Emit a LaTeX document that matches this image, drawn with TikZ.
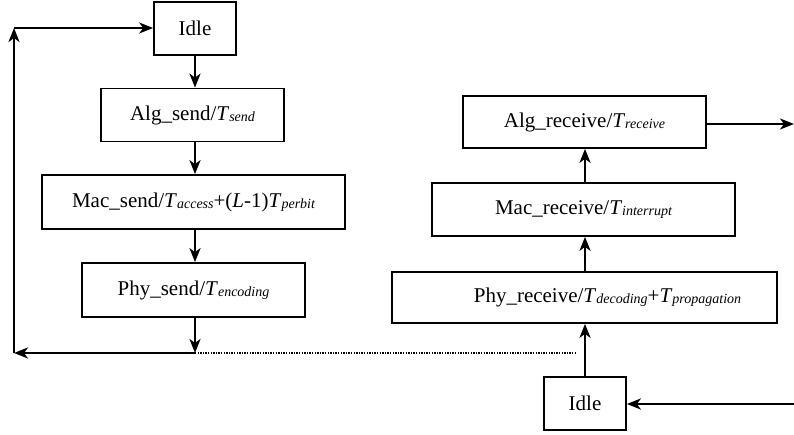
\documentclass[tikz,border=0pt]{standalone}
\usepackage{fontspec}
\setmainfont{Liberation Serif}
\usetikzlibrary{arrows.meta}
\newcommand{\sbx}[1]{\raisebox{-1.2pt}{\fontsize{14}{14}\selectfont\itshape #1}}
\newcommand{\Tit}{\textit{T}}
\begin{document}
\begin{tikzpicture}[x=1pt,y=-1pt,
  box/.style={draw,line width=1.7pt,inner sep=0pt,font=\fontsize{21}{24}\selectfont},
  arr/.style={line width=2.6pt,-{Stealth[length=14pt,width=11pt,inset=4pt]}},
  ln/.style={line width=2.6pt}]
\useasboundingbox (0,0) rectangle (794,435);
% left column
\node[box,minimum width=82pt,minimum height=53pt] (idleA) at (195,28.5) {Idle};
\node[box,minimum width=183pt,minimum height=53pt] (algS) at (192.5,115) {Alg\_send/\Tit\sbx{send}};
\node[box,minimum width=303pt,minimum height=54pt] (macS) at (193.5,202) {Mac\_send/\Tit\sbx{access}+(\textit{L}-1)\Tit\sbx{perbit}};
\node[box,minimum width=223pt,minimum height=54pt] (phyS) at (193.5,290) {Phy\_send/\Tit\sbx{encoding}};
% right column
\node[box,minimum width=243pt,minimum height=52pt] (algR) at (584.5,122) {Alg\_receive/\Tit\sbx{receive}};
\node[box,minimum width=303pt,minimum height=53pt] (macR) at (583.5,209.5) {Mac\_receive/\Tit\sbx{interrupt}};
\node[box,minimum width=385pt,minimum height=51pt] (phyR) at (584.5,297.5) {\hspace*{46pt}Phy\_receive/\Tit\sbx{decoding}+\Tit\sbx{propagation}};
\node[box,minimum width=82pt,minimum height=53pt] (idleB) at (585,403.5) {Idle};
% coordinates
\coordinate (c1) at (195,353);
\coordinate (c2) at (14,353);
\coordinate (c3) at (14,28);
\coordinate (d1) at (577,353);
\coordinate (inR) at (794,404);
\coordinate (outR) at (794,124);
% left arrows
\draw[arr] (idleA.south) -- (idleA.south |- algS.north);
\draw[arr] (195,0 |- algS.south) -- (195,0 |- macS.north);
\draw[arr] (195,0 |- macS.south) -- (195,0 |- phyS.north);
\draw[arr] (195,0 |- phyS.south) -- (c1);
\draw[arr] (c1) -- (c2);
\draw[arr] (c2) -- (c3);
\draw[arr] (c3) -- (c3 -| idleA.west);
\draw[line width=1.3pt,dash pattern=on 1.3pt off 1.3pt] (c1) -- (d1);
% right arrows
\draw[arr] (585,0 |- idleB.north) -- (585,0 |- phyR.south);
\draw[arr] (585,0 |- phyR.north) -- (585,0 |- macR.south);
\draw[arr] (585,0 |- macR.north) -- (585,0 |- algR.south);
\draw[arr] (inR) -- (inR -| idleB.east);
\draw[arr] (outR -| algR.east) -- (outR);
\end{tikzpicture}
\end{document}
